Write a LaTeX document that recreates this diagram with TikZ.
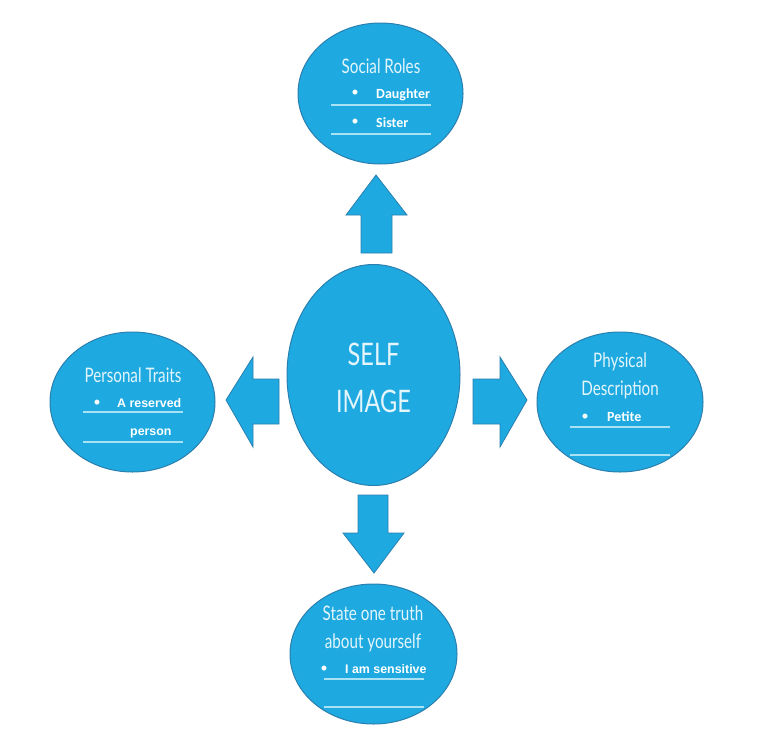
\documentclass[tikz,border=0pt]{standalone}
\usepackage{fontspec}
\setmainfont{Lato}
\newfontfamily\headfont[FakeStretch=0.76]{Lato}
\newfontfamily\calfont{Carlito}
\newfontfamily\arialfont{Liberation Sans}
\usetikzlibrary{shapes.geometric}
\definecolor{fillblue}{HTML}{1EAAE1}
\definecolor{edgeblue}{HTML}{2A7FAE}
\definecolor{headtext}{HTML}{E4F5FB}
\definecolor{ruleblue}{HTML}{A8E2F4}
\begin{document}
\begin{tikzpicture}[x=1pt,y=-1pt,
  bubble/.style={ellipse, fill=fillblue, draw=edgeblue, line width=1pt, inner sep=0pt},
  blockarrow/.style={fill=fillblue, draw=edgeblue, line width=0.8pt, line join=miter},
  heading/.style={text=headtext, font=\headfont\fontsize{20}{24}\selectfont, inner sep=0pt, anchor=base},
  bigheading/.style={text=headtext, font=\headfont\fontsize{31}{36}\selectfont, inner sep=0pt, anchor=base},
  itemcal/.style={text=white, inner sep=0pt, anchor=base west, font=\calfont\bfseries\fontsize{14}{16}\selectfont},
  itemarial/.style={text=white, inner sep=0pt, anchor=base west, font=\arialfont\bfseries\fontsize{12.4}{15}\selectfont},
  dot/.style={text=white, inner sep=0pt, font=\calfont\fontsize{14}{16}\selectfont},
  rulel/.style={draw=ruleblue, line width=1.1pt}]
\useasboundingbox (0,0) rectangle (759,755);

% ellipses
\node[bubble, minimum width=173pt, minimum height=221pt] (self) at (373.5,375) {};
\node[bubble, minimum width=165pt, minimum height=141pt] (social) at (380.5,93.5) {};
\node[bubble, minimum width=165pt, minimum height=140pt] (traits) at (132.5,402) {};
\node[bubble, minimum width=166pt, minimum height=140pt] (phys) at (620,402) {};
\node[bubble, minimum width=167pt, minimum height=140pt] (truth) at (373.5,654) {};

% block arrows
\draw[blockarrow] (361,253) -- (361,215) -- (346,215) -- (376,175) -- (407,215) -- (392,215) -- (392,253) -- cycle;
\draw[blockarrow] (279,379) -- (253,379) -- (253,357) -- (226,400) -- (253,447) -- (253,424) -- (279,424) -- cycle;
\draw[blockarrow] (473,379) -- (500,379) -- (500,357) -- (527,400) -- (500,447) -- (500,424) -- (473,424) -- cycle;
\draw[blockarrow] (358,495) -- (388,495) -- (388,533) -- (404,533) -- (374,573) -- (343,533) -- (358,533) -- cycle;

% center
\node[bigheading] (selft) at (373.5,365) {SELF};
\node[bigheading] (imaget) at (373.5,412) {IMAGE};

% social roles
\node[heading] (socialh) at (381,73) {Social Roles};
\node[dot] (sb1) at (355,93) {•};
\node[itemcal] (daughter) at (376,98) {Daughter};
\node[dot] (sb2) at (355,122) {•};
\node[itemcal] (sister) at (376,127) {Sister};
\draw[rulel] (331,105) -- (431,105);
\draw[rulel] (331,134) -- (431,134);

% personal traits
\node[heading] (traitsh) at (133,382) {Personal Traits};
\node[dot] (tb1) at (97,403) {•};
\node[itemarial] (reserved) at (117,407) {A reserved};
\node[itemarial] (person) at (130,435) {person};
\draw[rulel] (83,412) -- (183,412);
\draw[rulel] (83,442) -- (183,442);

% physical description
\node[heading] (physh1) at (620,367) {Physical};
\node[heading] (physh2) at (620,395) {Description};
\node[dot] (pb1) at (585,417) {•};
\node[itemcal] (petite) at (607,421) {Petite};
\draw[rulel] (570,427) -- (670,427);
\draw[rulel] (570,455) -- (670,455);

% truth
\node[heading] (truthh1) at (373,620) {State one truth};
\node[heading] (truthh2) at (373,648) {about yourself};
\node[dot] (ub1) at (324,669) {•};
\node[itemarial] (sensitive) at (345,673) {I am sensitive};
\draw[rulel] (324,679) -- (424,679);
\draw[rulel] (324,707) -- (424,707);
\end{tikzpicture}
\end{document}
